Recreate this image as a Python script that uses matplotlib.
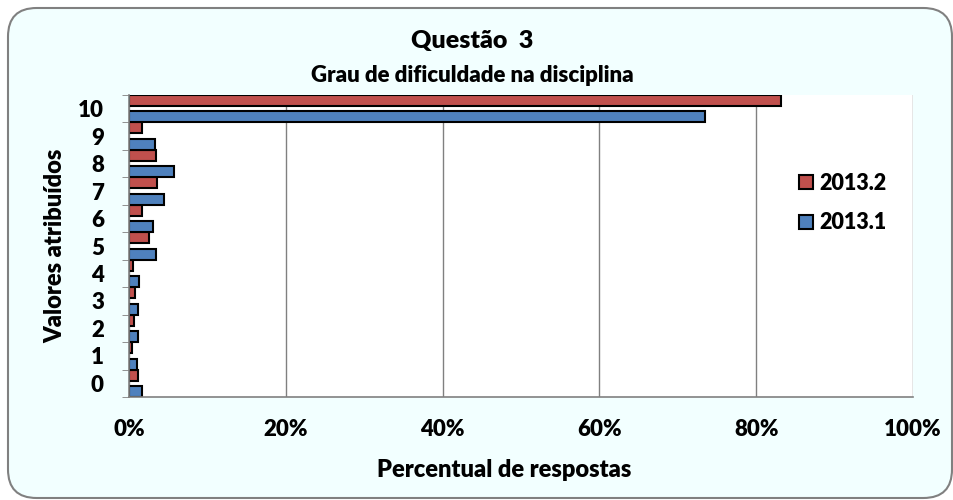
import matplotlib
matplotlib.use("Agg")
import matplotlib.pyplot as plt
import numpy as np
from matplotlib.patches import FancyBboxPatch, Patch

# data (percent of answers)
categories = ["0", "1", "2", "3", "4", "5", "6", "7", "8", "9", "10"]
s2013_1 = [1.6, 1.0, 1.2, 1.1, 1.3, 3.5, 3.0, 4.5, 5.7, 3.3, 73.5]
s2013_2 = [1.2, 0.4, 0.6, 0.8, 0.55, 2.6, 1.6, 3.6, 3.4, 1.7, 83.2]
x_ticks = [0, 20, 40, 60, 80, 100]

plt.rcParams['font.family'] = ['Lato', 'DejaVu Sans']
W = 'heavy'

bg = '#F2FFFF'
red = '#C0504D'
blue = '#4F81BD'

fig = plt.figure(figsize=(9.54, 5), dpi=100)
fig.patch.set_facecolor('white')

# rounded chart frame
frame = FancyBboxPatch((8 / 954, 2 / 500), 944 / 954, 490 / 500,
                       boxstyle="round,pad=0,rounding_size=0.03",
                       transform=fig.transFigure, facecolor=bg,
                       edgecolor='#808080', linewidth=1.5,
                       mutation_aspect=954 / 500, zorder=-10)
fig.patches.append(frame)

ax = fig.add_axes([129 / 954, 1 - 397 / 500, (913 - 129) / 954, (397 - 95) / 500])
ax.set_facecolor('white')

y = np.arange(len(categories))
h = 0.4
ax.barh(y + 0.3, s2013_2, height=h, color=red, edgecolor='black', linewidth=1.5)
ax.barh(y - 0.3, s2013_1, height=h, color=blue, edgecolor='black', linewidth=1.5)

ax.set_xlim(0, 100)
ax.set_ylim(-0.5, len(categories) - 0.5)
ax.set_xticks(x_ticks)
ax.set_xticklabels([f"{v}%" for v in x_ticks])
ax.set_yticks(y)
ax.set_yticklabels(categories)
ax.set_yticks(np.arange(-0.5, len(categories), 1), minor=True)
for t in ax.get_xticklabels():
    t.set_fontsize(16)
    t.set_fontweight(W)
for t in ax.get_yticklabels():
    t.set_fontsize(16)
    t.set_fontweight(W)
ax.tick_params(axis='y', which='major', length=0, pad=18)
ax.tick_params(axis='y', which='minor', length=5, color='#808080', direction='out')
ax.tick_params(axis='x', length=0, pad=16)

ax.grid(axis='x', color='#808080', linewidth=1)
ax.set_axisbelow(True)
for s in ['top', 'right']:
    ax.spines[s].set_visible(False)
for s in ['left', 'bottom']:
    ax.spines[s].set_color('#808080')
    ax.spines[s].set_linewidth(1.2)

xl = ax.set_xlabel('Percentual de respostas', fontsize=17, fontweight=W)
ax.xaxis.set_label_coords((504 - 129) / 784, -(470 - 397) / 302)
xl.set_va('center')
yl = ax.set_ylabel('Valores atribuídos', fontsize=17, fontweight=W)
ax.yaxis.set_label_coords((55 - 129) / 784, 0.5)
yl.set_va('center')

fig.text(472 / 954, 1 - 41 / 500, 'Questão  3', ha='center', va='center', fontsize=18, fontweight=W)
fig.text(472 / 954, 1 - 76 / 500, 'Grau de dificuldade na disciplina', ha='center', va='center',
         fontsize=16, fontweight=W)

handles = [Patch(facecolor=red, edgecolor='black', linewidth=1.5, label='2013.2'),
           Patch(facecolor=blue, edgecolor='black', linewidth=1.5, label='2013.1')]
leg = ax.legend(handles=handles, loc='center left',
                bbox_to_anchor=((788 - 129) / 784, (397 - 203) / 302),
                frameon=False, prop={'size': 15.5, 'weight': W}, borderpad=0,
                handlelength=0.65, handleheight=0.65,
                handletextpad=0.3, labelspacing=0.86)

fig.savefig('out.png', dpi=100, facecolor=fig.get_facecolor())
